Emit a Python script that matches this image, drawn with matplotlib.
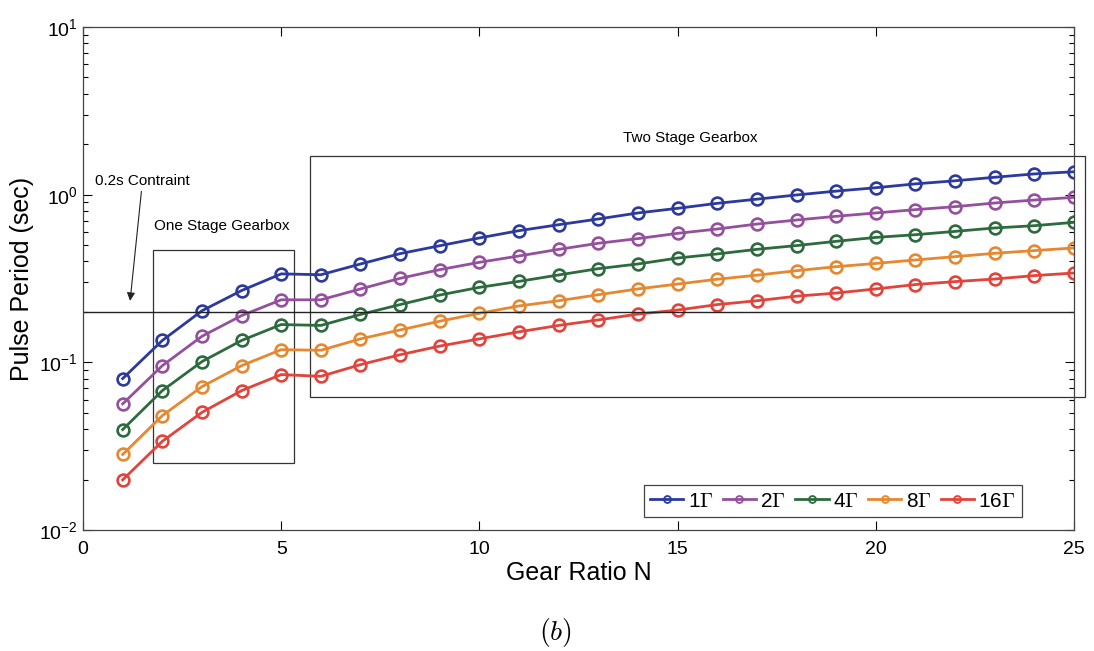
import numpy as np
import matplotlib
matplotlib.use("Agg")
import matplotlib.pyplot as plt
from matplotlib.patches import Rectangle

plt.rcParams['font.family'] = ['Liberation Sans', 'DejaVu Sans']
plt.rcParams['mathtext.fontset'] = 'cm'
plt.rcParams['axes.unicode_minus'] = False

# gear ratio and pulse period (sec) for each gamma multiple
N = np.arange(1, 26)
p1 = [0.080, 0.135, 0.203, 0.268, 0.337, 0.333, 0.386, 0.445, 0.496, 0.552, 0.610, 0.662, 0.716,
      0.778, 0.829, 0.888, 0.940, 0.996, 1.05, 1.10, 1.16, 1.21, 1.27, 1.33, 1.37]
p2 = [0.0565, 0.0955, 0.143, 0.190, 0.236, 0.236, 0.274, 0.317, 0.357, 0.395, 0.431, 0.472, 0.513,
      0.547, 0.588, 0.624, 0.668, 0.706, 0.743, 0.778, 0.814, 0.848, 0.892, 0.929, 0.964]
p4 = [0.0397, 0.0678, 0.101, 0.135, 0.168, 0.166, 0.193, 0.221, 0.252, 0.280, 0.304, 0.332, 0.362,
      0.386, 0.419, 0.443, 0.472, 0.497, 0.527, 0.556, 0.577, 0.604, 0.633, 0.653, 0.684]
p8 = [0.0282, 0.0481, 0.0716, 0.0955, 0.119, 0.118, 0.138, 0.156, 0.176, 0.196, 0.217, 0.233, 0.253,
      0.274, 0.293, 0.313, 0.331, 0.352, 0.372, 0.389, 0.408, 0.427, 0.447, 0.464, 0.481]
p16 = [0.0199, 0.0338, 0.0503, 0.0678, 0.0845, 0.0825, 0.0969, 0.111, 0.125, 0.138, 0.152, 0.166, 0.179,
       0.194, 0.205, 0.221, 0.233, 0.248, 0.259, 0.274, 0.291, 0.303, 0.314, 0.329, 0.341]

series = [p1, p2, p4, p8, p16]
labels = [r'1$\Gamma$', r'2$\Gamma$', r'4$\Gamma$', r'8$\Gamma$', r'16$\Gamma$']
colors = ['#2b3a9c', '#94509e', '#2d6a3d', '#e5882f', '#e2433a']

constraint = 0.2

fig = plt.figure(figsize=(10.94, 6.51), dpi=100)
ax = fig.add_axes([0.0759, 0.1859, 0.9058, 0.7726])

for y, lab, c in zip(series, labels, colors):
    ax.plot(N, y, '-o', color=c, lw=2.0, ms=8.5, mfc='none', mew=1.9, label=lab)

ax.axhline(constraint, color='#222222', lw=1.0)

# gearbox regions
ax.add_patch(Rectangle((1.76, 0.025), 5.33 - 1.76, 0.47 - 0.025, fill=False,
                       ec='#333333', lw=0.9))
ax.add_patch(Rectangle((5.73, 0.0618), 25.28 - 5.73, 1.69 - 0.0618, fill=False,
                       ec='#333333', lw=0.9, clip_on=False))

ax.text(1.78, 0.653, 'One Stage Gearbox', fontsize=11, va='center', ha='left')
ax.text(13.62, 2.17, 'Two Stage Gearbox', fontsize=11, va='center', ha='left')
ax.text(0.3, 1.2, '0.2s Contraint', fontsize=11, va='center', ha='left')
ax.annotate('', xy=(1.18, 0.224), xytext=(1.48, 1.086),
            arrowprops=dict(arrowstyle='-|>', lw=0.8, color='#222222', mutation_scale=12))

ax.set_yscale('log')
ax.set_xlim(0, 25)
ax.set_ylim(1e-2, 1e1)
ax.set_xticks([0, 5, 10, 15, 20, 25])
ax.tick_params(which='major', direction='in', length=6.5, width=0.8, top=True, right=True,
               labelsize=14)
ax.tick_params(which='minor', direction='in', length=3.5, width=0.8, top=True, right=True)
ax.tick_params(axis='x', which='minor', bottom=False, top=False)
ax.tick_params(axis='x', pad=8)
ax.tick_params(axis='y', pad=4)
for s in ax.spines.values():
    s.set_color('#444444')
    s.set_linewidth(0.9)

ax.set_xlabel('Gear Ratio N', fontsize=18, labelpad=2)
ax.set_ylabel('Pulse Period (sec)', fontsize=18)
ax.yaxis.set_label_coords(-0.0494, 0.5)

leg = ax.legend(loc='lower left', bbox_to_anchor=(0.566, 0.026), borderaxespad=0, ncol=5,
                fontsize=15, handlelength=1.6, handletextpad=0.2, columnspacing=0.45,
                borderpad=0.3, fancybox=False, framealpha=1, edgecolor='#444444')
leg.get_frame().set_linewidth(0.9)
for h in leg.legend_handles:
    h.set_markersize(5)
    h.set_markeredgewidth(1.3)

fig.text(0.508, 0.028, '$(b)$', fontsize=20, ha='center', va='center')

fig.savefig('out.png', dpi=100)
